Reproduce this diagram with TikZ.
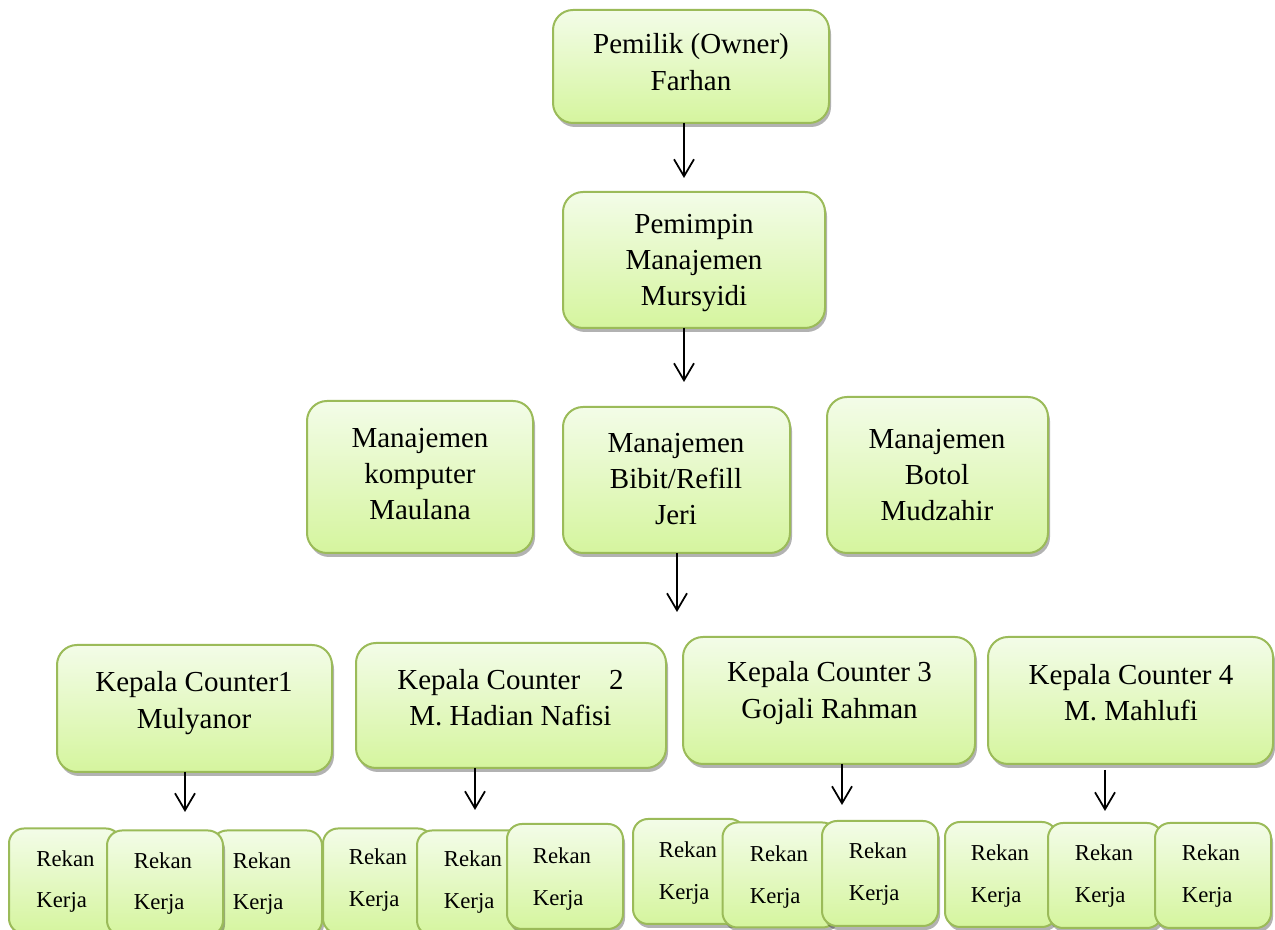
\documentclass[tikz,border=0pt]{standalone}
\usepackage{fontspec}
\setmainfont{Liberation Serif}
\usetikzlibrary{arrows.meta,shadows}
\definecolor{boxline}{RGB}{155,187,89}
\definecolor{boxtop}{RGB}{243,252,232}
\definecolor{boxbot}{RGB}{213,245,158}
\begin{document}
\begin{tikzpicture}[x=.4pt, y=-.4pt,
    orgbox/.style 2 args={draw=boxline, line width=.8pt, top color=boxtop, bottom color=boxbot,
      rounded corners=8pt, minimum width=#1*.4pt, minimum height=#2*.4pt, inner sep=0pt, outer sep=0pt,
      drop shadow={shadow xshift=.8pt, shadow yshift=-1.6pt, opacity=.3, fill=black}},
    rekan/.style={orgbox={#1}{105}, rounded corners=6pt},
    txt/.style={font=\fontsize{11.6}{14.5}\selectfont, align=center, inner sep=0pt},
    kerja/.style={font=\fontsize{9.1}{16.5}\selectfont, align=left, inner sep=0pt},
    arr/.style={-{Straight Barb[length=6.8pt, width=8pt]}, line width=.7pt}]
  \useasboundingbox (0,0) rectangle (1275,930);

  % owner and leader
  \node[orgbox={276}{113}] (owner) at (691,66.5) {};
  \node[txt] (owner-t) at (691,62) {Pemilik (Owner)\\Farhan};
  \node[orgbox={262}{136}] (lead) at (694,260) {};
  \node[txt] (lead-t) at (694,263) {Pemimpin\\Manajemen\\Mursyidi};

  % managers
  \node[orgbox={226}{152}] (komp) at (420,477) {};
  \node[txt] (komp-t) at (420,474) {Manajemen\\komputer\\Maulana};
  \node[orgbox={227}{146}] (bibit) at (676.5,480) {};
  \node[txt] (bibit-t) at (676,479) {Manajemen\\Bibit/Refill\\Jeri};
  \node[orgbox={221}{156}] (botol) at (937.5,475) {};
  \node[txt] (botol-t) at (937,475) {Manajemen\\Botol\\Mudzahir};

  % counters
  \node[orgbox={275}{127}] (k1) at (194.5,708.5) {};
  \node[txt] (k1-t) at (194,703) {Kepala Counter1\\Mulyanor};
  \node[orgbox={310}{125}] (k2) at (511,705.5) {};
  \node[txt] (k2-t) at (510.5,697.5) {Kepala Counter\quad 2\\M. Hadian Nafisi};
  \node[orgbox={292}{127}] (k3) at (829,700.5) {};
  \node[txt] (k3-t) at (829.5,693) {Kepala Counter 3\\Gojali Rahman};
  \node[orgbox={285}{127}] (k4) at (1130.5,700.5) {};
  \node[txt] (k4-t) at (1131,693) {Kepala Counter 4\\M. Mahlufi};

  % rekan kerja
  \node[rekan=112] (r1) at (65,881) {};
  \node[kerja] (r1-t) at (65.5,881.5) {Rekan\\Kerja};
  \node[rekan=110] (r3) at (267,883) {};
  \node[kerja] (r3-t) at (262,883.5) {Rekan\\Kerja};
  \node[rekan=116] (r2) at (165,883) {};
  \node[kerja] (r2-t) at (163,883.5) {Rekan\\Kerja};

  \node[rekan=110] (r4) at (378,881) {};
  \node[kerja] (r4-t) at (378,880) {Rekan\\Kerja};
  \node[rekan=110] (r5) at (472,883) {};
  \node[kerja] (r5-t) at (473,882) {Rekan\\Kerja};
  \node[rekan=116] (r6) at (565,876.5) {};
  \node[kerja] (r6-t) at (562,879) {Rekan\\Kerja};

  \node[rekan=112] (r7) at (689,871.5) {};
  \node[kerja] (r7-t) at (688,873) {Rekan\\Kerja};
  \node[rekan=115] (r8) at (780,875) {};
  \node[kerja] (r8-t) at (779,877) {Rekan\\Kerja};
  \node[rekan=116] (r9) at (880,873.5) {};
  \node[kerja] (r9-t) at (878,874) {Rekan\\Kerja};

  \node[rekan=112] (r10) at (1001,874.5) {};
  \node[kerja] (r10-t) at (1000,876) {Rekan\\Kerja};
  \node[rekan=114] (r11) at (1105,875.5) {};
  \node[kerja] (r11-t) at (1104,876) {Rekan\\Kerja};
  \node[rekan=116] (r12) at (1213,875.5) {};
  \node[kerja] (r12-t) at (1211,876) {Rekan\\Kerja};

  % arrows
  \coordinate (t1) at (684,178);
  \coordinate (t2) at (684,382);
  \coordinate (t3) at (677,612);
  \coordinate (t4) at (185,812);
  \coordinate (t5) at (475,810);
  \coordinate (t6) at (842,805);
  \coordinate (t7) at (1105,811);
  \draw[arr] (owner.south -| t1) -- (t1);
  \draw[arr] (lead.south -| t2) -- (t2);
  \draw[arr] (bibit.south -| t3) -- (t3);
  \draw[arr] (k1.south -| t4) -- (t4);
  \draw[arr] (k2.south -| t5) -- (t5);
  \draw[arr] (k3.south -| t6) -- (t6);
  \draw[arr] ([yshift=-2.4pt]k4.south -| t7) -- (t7);
\end{tikzpicture}
\end{document}
